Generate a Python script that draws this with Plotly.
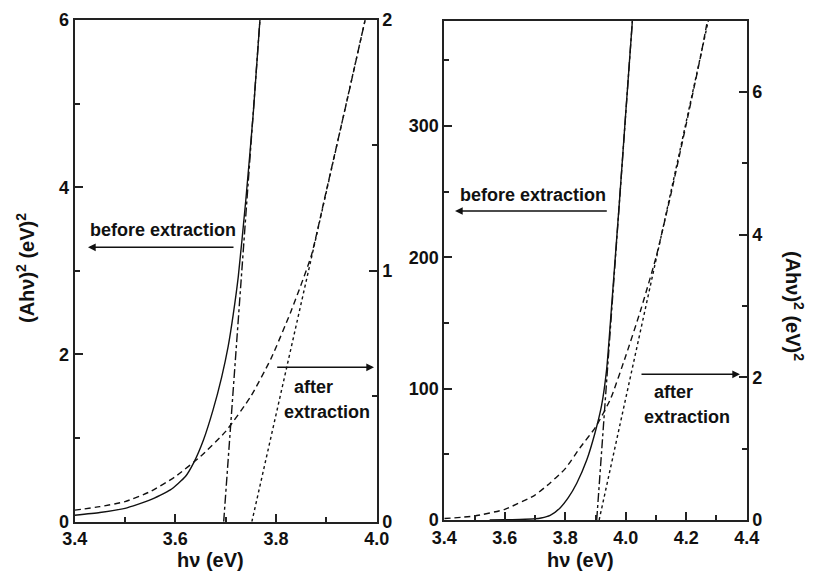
import plotly.graph_objects as go

# page body has an 8px margin: the figure is drawn from (8, 8)
OFF = 8
W, H = 815 - OFF, 580 - OFF

# ---------------- data ----------------
# Left panel (x: 3.4-4.0)
L_before_x = [3.40, 3.45, 3.50, 3.55, 3.59, 3.62, 3.636, 3.656, 3.675, 3.692, 3.705, 3.715, 3.725, 3.74, 3.755, 3.768]
L_before_y = [0.077, 0.11, 0.16, 0.26, 0.38, 0.54, 0.70, 0.98, 1.34, 1.73, 2.10, 2.48, 2.93, 3.85, 4.90, 6.00]
L_before_tan_x = [3.696, 3.768]
L_before_tan_y = [0.0, 6.0]

L_after_x = [3.40, 3.45, 3.50, 3.55, 3.60, 3.65, 3.70, 3.75, 3.79, 3.83, 3.87, 3.90, 3.94, 3.977]
L_after_y = [0.046, 0.06, 0.08, 0.12, 0.18, 0.26, 0.36, 0.50, 0.65, 0.84, 1.06, 1.32, 1.67, 2.00]
L_after_tan_x = [3.752, 3.977]
L_after_tan_y = [0.0, 2.0]

# Right panel (x: 3.4-4.4)
R_before_x = [3.55, 3.60, 3.65, 3.70, 3.72, 3.75, 3.782, 3.81, 3.838, 3.871, 3.898, 3.92, 3.937, 3.954, 3.98, 4.00, 4.022]
R_before_y = [0.0, 0.2, 0.4, 0.9, 1.5, 3.5, 9.0, 17.0, 28.0, 45.6, 66.0, 87.0, 115.0, 165.0, 245.0, 310.0, 380.0]
R_before_tan_x = [3.904, 4.022]
R_before_tan_y = [0.0, 380.0]

R_after_x = [3.40, 3.50, 3.60, 3.70, 3.75, 3.80, 3.85, 3.90, 3.95, 4.00, 4.05, 4.10, 4.15, 4.20, 4.25, 4.27]
R_after_y = [0.02, 0.056, 0.15, 0.35, 0.52, 0.72, 1.02, 1.30, 1.70, 2.30, 2.95, 3.68, 4.58, 5.55, 6.55, 7.00]
R_after_tan_x = [3.912, 4.273]
R_after_tan_y = [0.0, 7.0]

L_xticks = [3.4, 3.6, 3.8, 4.0]
R_xticks = [3.4, 3.6, 3.8, 4.0, 4.2, 4.4]

# ---------------- styling ----------------
FONT = "Liberation Sans, Arial, sans-serif"
INK = "#111111"
LW = 1.4

def px(x):
    return (x - OFF) / W

def py(y):
    return 1 - (y - OFF) / H

fig = go.Figure()

def line(x, y, xa, ya, dash, shape="linear"):
    fig.add_trace(go.Scatter(
        x=x, y=y, xaxis=xa, yaxis=ya, mode="lines",
        line=dict(color=INK, width=LW, dash=dash, shape=shape, smoothing=0.5),
        showlegend=False, hoverinfo="skip"))

line(L_before_x, L_before_y, "x", "y", "solid", "spline")
line(L_before_tan_x, L_before_tan_y, "x", "y", "dashdot")
line(L_after_x, L_after_y, "x", "y2", "6px,4px", "spline")
line(L_after_tan_x, L_after_tan_y, "x", "y2", "dot")

line(R_before_x, R_before_y, "x2", "y3", "solid", "spline")
line(R_before_tan_x, R_before_tan_y, "x2", "y3", "dashdot")
line(R_after_x, R_after_y, "x2", "y4", "6px,4px", "spline")
line(R_after_tan_x, R_after_tan_y, "x2", "y4", "dot")

tickfont = dict(family=FONT, size=18, color=INK, weight="bold")
common = dict(showline=True, linecolor="#222", linewidth=2, ticks="inside",
              ticklen=8, tickwidth=1.6, tickcolor="#222", showgrid=False,
              zeroline=False, tickfont=tickfont, automargin=False)
mk_minor = lambda d: dict(ticks="inside", ticklen=5, tickwidth=1.6, dtick=d, tickcolor="#222")

Ldom_x = [px(74.7), px(376.7)]
Ldom_y = [py(521.7), py(20.0)]
Rdom_x = [px(444.3), px(746.7)]
Rdom_y = [py(520.0), py(20.7)]

fig.update_layout(
    width=W, height=H, margin=dict(l=0, r=0, t=0, b=0, autoexpand=False),
    paper_bgcolor="white", plot_bgcolor="white",
    xaxis=dict(domain=Ldom_x, range=[3.4, 4.0], anchor="y", mirror=True,
               tickvals=L_xticks, tickformat=".1f",
               minor=dict(mk_minor(0.1), tick0=3.4), **common),
    yaxis=dict(domain=Ldom_y, range=[0, 6], anchor="x", dtick=2,
               minor=mk_minor(1), **common),
    yaxis2=dict(range=[0, 2], overlaying="y", anchor="x", side="right", dtick=1,
                minor=mk_minor(0.5), **common),
    xaxis2=dict(domain=Rdom_x, range=[3.4, 4.4], anchor="y3", mirror=True,
                tickvals=R_xticks, tickformat=".1f",
                minor=dict(mk_minor(0.1), tick0=3.4), **common),
    yaxis3=dict(domain=Rdom_y, range=[0, 380], anchor="x2", dtick=100,
                minor=mk_minor(50), **common),
    yaxis4=dict(range=[0, 7], overlaying="y3", anchor="x2", side="right",
                tickvals=[0, 2, 4, 6], minor=mk_minor(1), **common),
)

tfont = dict(family=FONT, size=20, color=INK, weight="bold")
afont = dict(family=FONT, size=18, color=INK, weight="bold")

ann = []
def text(xp, yp, s, font, angle=0):
    ann.append(dict(xref="paper", yref="paper", x=px(xp), y=py(yp), text=s,
                    showarrow=False, font=font, textangle=angle,
                    xanchor="center", yanchor="middle"))

def arrow(tail, head):
    ann.append(dict(xref="paper", yref="paper", x=px(head[0]), y=py(head[1]),
                    ax=tail[0] - head[0], ay=tail[1] - head[1], axref="pixel", ayref="pixel",
                    text="", showarrow=True, arrowhead=2, arrowsize=1.1,
                    arrowwidth=1.4, arrowcolor=INK))

# axis titles
text(25, 268, "(Ahν)<sup>2</sup> (eV)<sup>2</sup>", tfont, -90)
text(795, 306, "(Ahν)<sup>2</sup> (eV)<sup>2</sup>", tfont, 90)
text(210, 560, "hν (eV)", tfont)
text(580, 560, "hν (eV)", tfont)

# left panel annotations
text(162.5, 230, "before extraction", afont)
arrow((235, 247.3), (88, 247.3))
text(313, 386.7, "after", afont)
text(327, 411.7, "extraction", afont)
arrow((275.7, 367.3), (374, 367.3))

# right panel annotations
text(533, 194.7, "before extraction", afont)
arrow((608.3, 211), (455, 211))
text(673, 391.7, "after", afont)
text(686.7, 416.7, "extraction", afont)
arrow((640, 374.3), (740, 374.3))

fig.update_layout(annotations=ann)

fig.write_html("out.html")
